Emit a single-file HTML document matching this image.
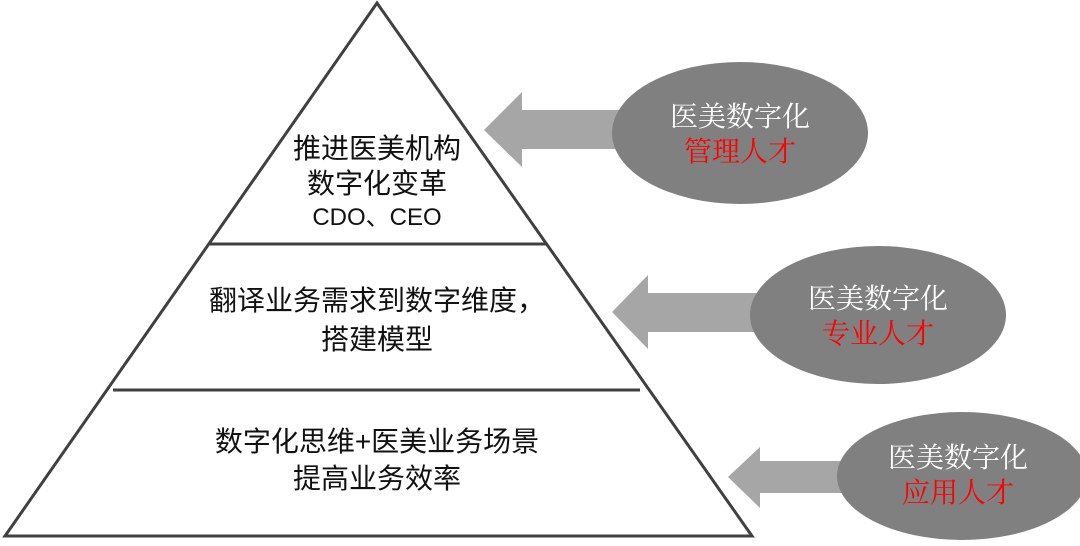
<!DOCTYPE html>
<html><head><meta charset="utf-8"><style>
body{margin:0;background:#fff;}
svg text{font-family:"Liberation Sans","Noto Sans CJK SC",sans-serif;}
svg .s{font-family:"Liberation Serif","Noto Serif CJK SC",serif;}
</style></head><body>
<svg width="1080" height="541" viewBox="0 0 1080 541" xmlns="http://www.w3.org/2000/svg">
<rect width="1080" height="541" fill="#fff"/>
<polygon points="377,3 752,536 5,536" fill="#fff" stroke="#404040" stroke-width="3"/>
<line x1="210" y1="244" x2="547" y2="244" stroke="#404040" stroke-width="3"/>
<line x1="113" y1="390" x2="640" y2="390" stroke="#404040" stroke-width="3"/>
<g font-size="28" fill="#111" text-anchor="middle">
<text x="377" y="158">推进医美机构</text>
<text x="377" y="193">数字化变革</text>
<text x="377" y="225" font-size="24">CDO、CEO</text>
<text x="377" y="310">翻译业务需求到数字维度，</text>
<text x="377" y="349">搭建模型</text>
<text x="377" y="451">数字化思维+医美业务场景</text>
<text x="377" y="488">提高业务效率</text>
</g>
<g fill="#a6a6a6">
<polygon points="484,130 522,92 522,110 680,110 680,149 522,149 522,167"/>
<polygon points="612,312 648,275 648,293 800,293 800,332 648,332 648,349"/>
<polygon points="728,477 760,447 760,461 880,461 880,493 760,493 760,508"/>
</g>
<g fill="#808080">
<ellipse cx="740" cy="133" rx="128" ry="71"/>
<ellipse cx="878" cy="315" rx="128" ry="69"/>
<ellipse cx="962" cy="476" rx="125" ry="64"/>
</g>
<g font-size="28" text-anchor="middle">
<text class="s" x="740" y="126" fill="#fff">医美数字化</text>
<text class="s" x="740" y="161" fill="#ff0000">管理人才</text>
<text class="s" x="878" y="308" fill="#fff">医美数字化</text>
<text class="s" x="878" y="343" fill="#ff0000">专业人才</text>
<text class="s" x="958" y="467" fill="#fff">医美数字化</text>
<text class="s" x="958" y="502" fill="#ff0000">应用人才</text>
</g>
</svg>
</body></html>
